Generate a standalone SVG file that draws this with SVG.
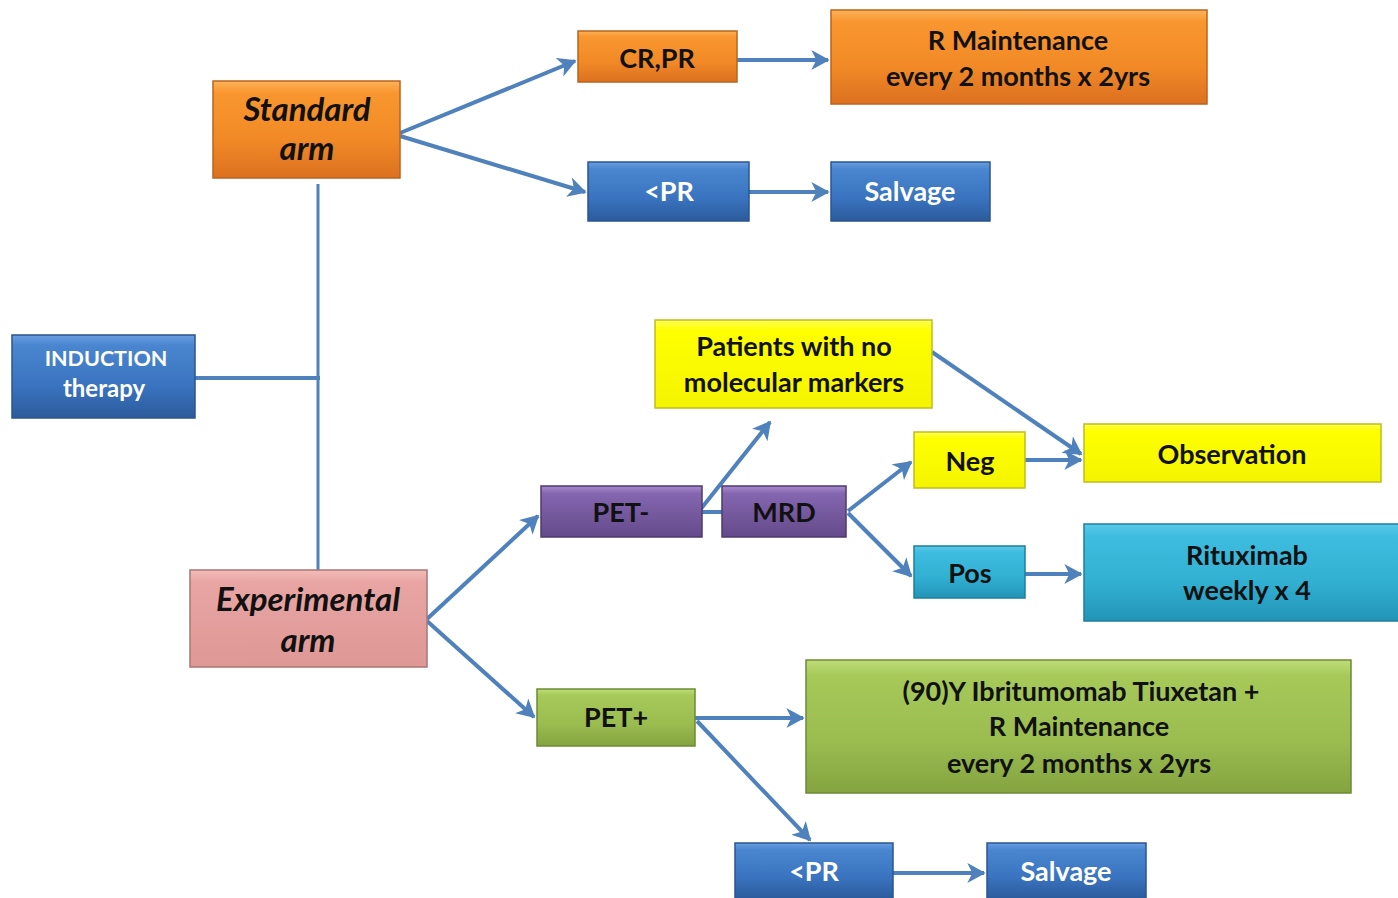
<svg xmlns="http://www.w3.org/2000/svg" width="1398" height="898" viewBox="0 0 1398 898">
<defs>
<linearGradient id="gOr" x1="0" y1="0" x2="0" y2="1"><stop offset="0" stop-color="#fdb35a"/><stop offset="0.12" stop-color="#f9962f"/><stop offset="0.6" stop-color="#f18a26"/><stop offset="1" stop-color="#dc7020"/></linearGradient>
<linearGradient id="gBl" x1="0" y1="0" x2="0" y2="1"><stop offset="0" stop-color="#6a9ee0"/><stop offset="0.12" stop-color="#4a86d0"/><stop offset="0.6" stop-color="#3a74c0"/><stop offset="1" stop-color="#2c5b9c"/></linearGradient>
<linearGradient id="gPk" x1="0" y1="0" x2="0" y2="1"><stop offset="0" stop-color="#f3bdbb"/><stop offset="0.12" stop-color="#e8a5a3"/><stop offset="1" stop-color="#de9896"/></linearGradient>
<linearGradient id="gPu" x1="0" y1="0" x2="0" y2="1"><stop offset="0" stop-color="#a98ad0"/><stop offset="0.15" stop-color="#8466b0"/><stop offset="1" stop-color="#644a8a"/></linearGradient>
<linearGradient id="gYe" x1="0" y1="0" x2="0" y2="1"><stop offset="0" stop-color="#ffff55"/><stop offset="0.12" stop-color="#ffff00"/><stop offset="1" stop-color="#f4f400"/></linearGradient>
<linearGradient id="gTe" x1="0" y1="0" x2="0" y2="1"><stop offset="0" stop-color="#5ccae8"/><stop offset="0.12" stop-color="#3fbde0"/><stop offset="0.6" stop-color="#31b0d2"/><stop offset="1" stop-color="#2394b6"/></linearGradient>
<linearGradient id="gGr" x1="0" y1="0" x2="0" y2="1"><stop offset="0" stop-color="#bedc78"/><stop offset="0.12" stop-color="#a6c95a"/><stop offset="0.6" stop-color="#9bbd50"/><stop offset="1" stop-color="#84a340"/></linearGradient>
<marker id="arr" viewBox="0 0 12 12" refX="10" refY="6" markerWidth="5" markerHeight="5" orient="auto" markerUnits="strokeWidth">
<path d="M0,0 L11,6 L0,12 L3,6 Z" fill="#4f81bd"/>
</marker>
</defs>
<style>
.box{stroke-width:1.5}
.or{fill:url(#gOr);stroke:#b8641e}
.bl{fill:url(#gBl);stroke:#2a5590}
.pk{fill:url(#gPk);stroke:#a87674}
.pu{fill:url(#gPu);stroke:#4e3a6e}
.ye{fill:url(#gYe);stroke:#bdbd20}
.te{fill:url(#gTe);stroke:#1f7f9c}
.gr{fill:url(#gGr);stroke:#6c8a34}
text{font-family:Lato,"Open Sans","Liberation Sans",sans-serif;font-weight:bold;text-anchor:middle;font-size:27px;fill:#111}
.w{fill:#fff}
.it{font-style:italic;font-size:33px}
.c{fill:none;stroke:#4f81bd;stroke-width:4}
.ca{fill:none;stroke:#4f81bd;stroke-width:4;marker-end:url(#arr)}
.t{fill:none;stroke:#4f81bd;stroke-width:3}
</style>
<g id="connectors">
<line class="t" x1="318" y1="184" x2="318" y2="572"/>
<line class="c" x1="195" y1="378" x2="320" y2="378"/>
<line class="ca" x1="400" y1="133" x2="575" y2="61"/>
<line class="ca" x1="400" y1="136" x2="585" y2="192"/>
<line class="ca" x1="737" y1="60" x2="828" y2="60"/>
<line class="ca" x1="749" y1="192" x2="828" y2="192"/>
<line class="ca" x1="427" y1="619" x2="538" y2="516"/>
<line class="ca" x1="427" y1="621" x2="534" y2="717"/>
<line class="c" x1="700" y1="512" x2="722" y2="512"/>
<line class="ca" x1="700" y1="510" x2="770" y2="422"/>
<line class="ca" x1="848" y1="511" x2="911" y2="462"/>
<line class="ca" x1="848" y1="513" x2="911" y2="576"/>
<line class="ca" x1="932" y1="352" x2="1081" y2="454"/>
<line class="ca" x1="1025" y1="460" x2="1081" y2="460"/>
<line class="ca" x1="1025" y1="574" x2="1081" y2="574"/>
<line class="ca" x1="695" y1="718" x2="803" y2="718"/>
<line class="ca" x1="697" y1="721" x2="810" y2="840"/>
<line class="ca" x1="893" y1="873" x2="984" y2="873"/>
</g>
<g id="standard"><rect class="box or" x="213" y="81" width="187" height="97"/><text class="it" x="307" y="121">Standard</text><text class="it" x="307" y="160">arm</text></g>
<g id="crpr"><rect class="box or" x="578" y="31" width="159" height="51"/><text x="657" y="68">CR,PR</text></g>
<g id="rmaint"><rect class="box or" x="831" y="10" width="376" height="94"/><text x="1018" y="50">R Maintenance</text><text x="1018" y="86">every 2 months x 2yrs</text></g>
<g id="ltpr1"><rect class="box bl" x="588" y="162" width="161" height="59"/><text class="w" x="669" y="201">&lt;PR</text></g>
<g id="salvage1"><rect class="box bl" x="831" y="162" width="159" height="59"/><text class="w" x="910" y="201">Salvage</text></g>
<g id="induction"><rect class="box bl" x="12" y="335" width="183" height="83"/><text class="w" x="106" y="366" style="font-size:21.5px">INDUCTION</text><text class="w" x="104" y="397" style="font-size:24px">therapy</text></g>
<g id="experimental"><rect class="box pk" x="190" y="570" width="237" height="97"/><text class="it" x="308" y="611">Experimental</text><text class="it" x="308" y="652">arm</text></g>
<g id="petneg"><rect class="box pu" x="541" y="486" width="161" height="51"/><text x="621" y="522">PET-</text></g>
<g id="mrd"><rect class="box pu" x="722" y="486" width="124" height="51"/><text x="784" y="522">MRD</text></g>
<g id="patients"><rect class="box ye" x="655" y="320" width="277" height="88"/><text x="794" y="356">Patients with no</text><text x="794" y="392">molecular markers</text></g>
<g id="neg"><rect class="box ye" x="914" y="432" width="111" height="56"/><text x="970" y="471">Neg</text></g>
<g id="observation"><rect class="box ye" x="1084" y="424" width="297" height="58"/><text x="1232" y="464">Observation</text></g>
<g id="pos"><rect class="box te" x="914" y="546" width="111" height="52"/><text x="970" y="583">Pos</text></g>
<g id="rituximab"><rect class="box te" x="1084" y="524" width="316" height="97"/><text x="1247" y="565">Rituximab</text><text x="1247" y="600">weekly x 4</text></g>
<g id="petpos"><rect class="box gr" x="537" y="689" width="158" height="57"/><text x="616" y="727">PET+</text></g>
<g id="ibritumomab"><rect class="box gr" x="806" y="660" width="545" height="133"/><text x="1081" y="701">(90)Y Ibritumomab Tiuxetan +</text><text x="1079" y="736">R Maintenance</text><text x="1079" y="773">every 2 months x 2yrs</text></g>
<g id="ltpr2"><rect class="box bl" x="735" y="843" width="158" height="56"/><text class="w" x="814" y="881">&lt;PR</text></g>
<g id="salvage2"><rect class="box bl" x="987" y="843" width="159" height="56"/><text class="w" x="1066" y="881">Salvage</text></g>
</svg>
